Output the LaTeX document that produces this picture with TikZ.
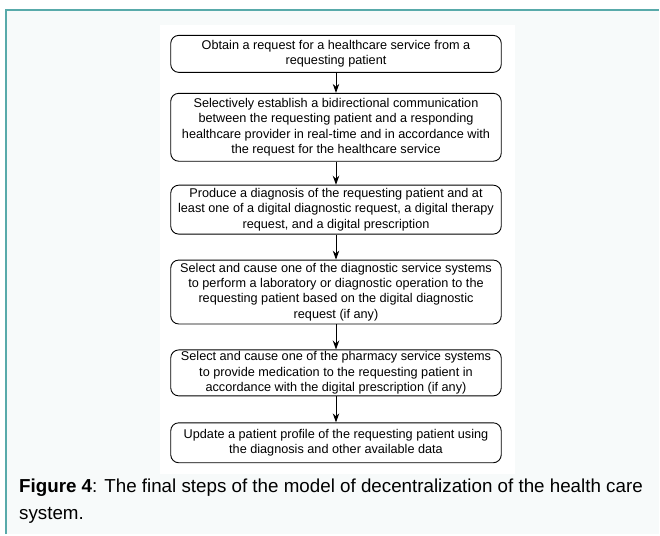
\documentclass[tikz,border=0pt]{standalone}
\usepackage{fontspec}
\setmainfont{Liberation Sans}
\usetikzlibrary{arrows.meta,positioning}
\definecolor{frameteal}{HTML}{58AAAA}
\definecolor{panel}{HTML}{F7FAFA}
\tikzset{
  stepbox/.style={draw=black, line width=0.9pt, rounded corners=8pt, minimum width=331pt,
    align=center, inner sep=0pt, font=\fontsize{12.7}{15.3}\selectfont, anchor=north},
  flow/.style={draw=black, line width=0.9pt, -{Stealth[length=9pt,width=6.5pt]}},
}
\begin{document}
\begin{tikzpicture}[x=1pt,y=-1pt]
  % page and framed panel
  \fill[white] (0,0) rectangle (660,535);
  \fill[panel] (6,10) rectangle (660,535);
  \draw[frameteal, line width=2pt] (6.5,535) -- (6.5,10.5) -- (660,10.5);
  \fill[white] (160,25) rectangle (516,475);
  \useasboundingbox (0,0) rectangle (660,535);

  % process steps
  \node[stepbox, minimum height=37pt] (s1) at (336.5,35)
    {Obtain a request for a healthcare service from a\\requesting patient};
  \node[stepbox, minimum height=68pt] (s2) at (336.5,93)
    {Selectively establish a bidirectional communication\\between the requesting patient and a responding\\healthcare provider in real-time and in accordance with\\the request for the healthcare service};
  \node[stepbox, minimum height=49pt] (s3) at (336.5,185)
    {Produce a diagnosis of the requesting patient and at\\least one of a digital diagnostic request, a digital therapy\\request, and a digital prescription};
  \node[stepbox, minimum height=64pt] (s4) at (336.5,260)
    {Select and cause one of the diagnostic service systems\\to perform a laboratory or diagnostic operation to the\\requesting patient based on the digital diagnostic\\request (if any)};
  \node[stepbox, minimum height=46pt] (s5) at (336.5,350)
    {Select and cause one of the pharmacy service systems\\to provide medication to the requesting patient in\\accordance with the digital prescription (if any)};
  \node[stepbox, minimum height=40pt] (s6) at (336.5,423)
    {Update a patient profile of the requesting patient using\\the diagnosis and other available data};

  % connectors
  \draw[flow] (s1) -- (s2);
  \draw[flow] (s2) -- (s3);
  \draw[flow] (s3) -- (s4);
  \draw[flow] (s4) -- (s5);
  \draw[flow] (s5) -- (s6);

  % caption
  \node[anchor=north west, align=left, inner sep=0pt,
        font=\fontsize{18.8}{27}\selectfont] (cap) at (19,479)
    {\textbf{Figure 4}: The final steps of the model of decentralization of the health care\\system.};
\end{tikzpicture}
\end{document}
